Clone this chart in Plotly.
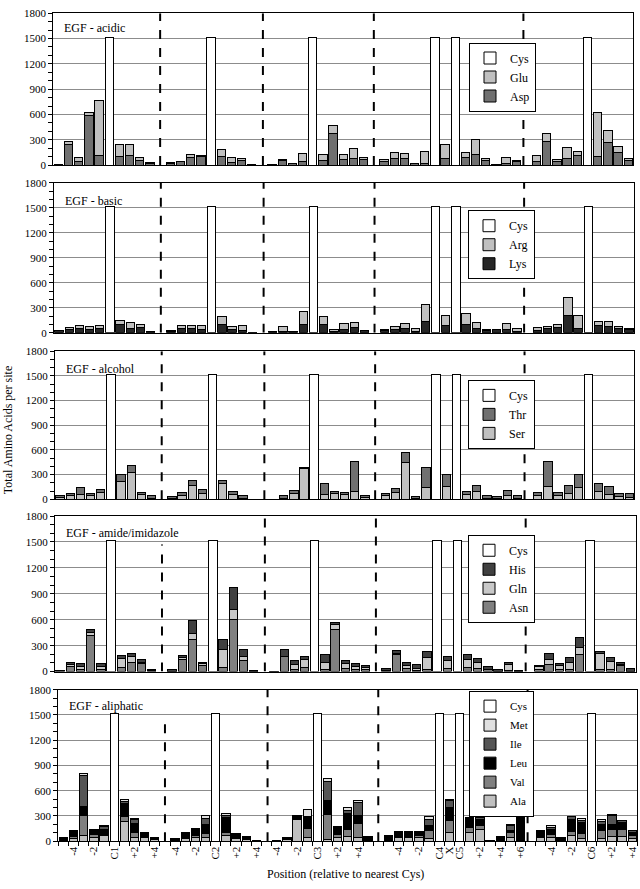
import plotly.graph_objects as go

# ---------------- data ----------------
N = 57
positions = list(range(N))
tick_idx = [1, 3, 5, 7, 9, 11, 13, 15, 17, 19, 21, 23, 25, 27, 29,
            33, 35, 37, 38, 39, 41, 43, 45, 48, 50, 52, 54, 56]
tick_labels = ["-4", "-2", "C1", "+2", "+4", "-4", "-2", "C2", "+2", "+4",
               "-4", "-2", "C3", "+2", "+4",
               "-4", "-2", "C4", "X", "C5", "+2", "+4", "+6",
               "-4", "-2", "C6", "+2", "+4"]
cys_idx = [5, 15, 25, 37, 39, 52]
cys_val = [1512, 1512, 1512, 1512, 1512, 1512]
dividers = [10, 20.1, 31, 45.7]

# Panel 1: acidic
asp = [8,250,40,590,113,0,100,110,50,20, 0, 25,40,90,100,0,100,30,60,8, 0,
       6,50,20,40,0,50,375,70,75,62, 0, 45,80,80,15,20,0,78,0,90,125,60,5,15,40, 0,
       45,280,45,74,110,0,100,270,145,50]
glu = [4,30,54,30,647,0,142,140,40,7, 0, 10,5,35,13,0,90,62,18,2, 0,
       2,15,5,100,0,70,90,55,125,32, 0, 21,64,53,5,136,0,172,0,54,175,22,0,71,18, 0,
       68,94,21,129,46,0,520,143,73,28]
# Panel 2: basic
lys = [25,40,50,40,50,0,95,55,60,15, 0, 20,50,50,40,0,95,40,25,5, 0,
       10,15,12,100,0,105,20,45,65,25, 0, 30,40,55,15,140,0,85,0,100,55,30,35,35,20, 0,
       30,50,60,210,50,0,85,80,50,35]
arg = [7,20,40,35,33,0,55,63,35,5, 0, 4,40,37,50,0,95,30,58,0, 0,
       0,65,0,152,0,95,20,70,57,7, 0, 5,35,60,32,203,0,120,0,132,63,5,8,75,27, 0,
       29,29,35,215,163,0,49,50,29,20]
# Panel 3: alcohol
ser = [25,40,60,50,80,0,210,320,60,10, 0, 10,40,170,70,0,190,55,5,2, 0,
       0,10,70,375,0,60,70,60,100,20, 0, 40,80,450,5,140,0,160,0,60,100,15,10,40,15, 0,
       50,150,40,70,140,0,100,55,30,25]
thr = [15,32,80,26,44,0,90,96,28,30, 0, 22,44,62,50,0,38,37,35,0, 0,
       2,34,38,9,0,128,25,24,364,20, 0, 32,56,122,31,244,0,140,0,40,64,33,26,68,29, 0,
       34,314,40,98,164,0,92,97,38,43]
# Panel 4: amide/imidazole
asn = [10,60,30,420,25,0,46,100,90,7, 0, 5,140,375,70,0,42,602,130,5, 0,
       3,170,20,50,0,30,490,40,30,25, 0, 10,200,40,15,30,0,40,0,50,40,20,5,15,4, 0,
       25,80,30,30,193,0,25,30,70,4]
gln = [0,20,30,35,35,0,100,70,20,0, 0, 0,20,65,20,0,208,118,50,0, 0,
       0,10,60,90,0,80,60,50,30,25, 0, 5,15,35,20,130,0,90,0,90,60,10,0,65,0, 0,
       30,60,40,70,87,0,190,90,10,0]
his = [5,27,35,29,28,0,37,43,27,20, 0, 18,30,150,20,0,120,255,70,3, 0,
       2,80,50,40,0,85,14,38,30,22, 0, 25,30,30,48,74,0,48,0,57,47,27,25,26,4, 0,
       13,68,28,63,113,0,19,43,26,30]
# Panel 5: aliphatic
ala = [10,30,70,50,65,0,240,50,40,20, 0, 10,35,45,45,0,70,35,25,10, 0,
       10,25,260,40,0,25,50,60,50,5, 0, 10,45,45,45,30,0,100,0,105,140,0,10,45,10, 0,
       45,45,10,70,35,0,35,60,60,30]
val = [0,30,240,25,20,0,50,60,10,5, 0, 0,5,20,50,0,40,5,0,0, 0,
       5,0,5,110,0,290,30,75,160,0, 0, 0,15,15,20,95,0,145,0,55,50,0,0,55,5, 0,
       15,40,0,50,55,0,90,85,80,35]
leu = [30,60,100,50,60,0,155,100,45,25, 0, 28,65,80,105,0,170,50,30,5, 0,
       0,25,40,130,0,170,85,190,95,55, 0, 55,50,45,40,60,0,150,0,115,70,10,45,30,270, 0,
       65,50,40,140,130,0,70,55,80,45]
ile = [0,5,370,20,30,0,25,45,5,0, 0, 0,3,10,70,0,20,0,0,0, 0,
       0,0,0,15,0,225,10,45,155,0, 0, 0,8,10,10,75,0,90,0,10,25,0,0,55,0, 0,
       8,30,0,30,30,0,40,110,25,12]
met = [0,0,27,0,10,0,20,20,5,0, 0, 0,0,0,35,0,30,0,0,0, 0,
       0,0,0,85,0,30,5,25,22,0, 0, 0,0,0,0,30,0,15,0,0,0,0,0,20,0, 0,
       0,20,0,0,20,0,20,5,0,0]

panels = [
    ("EGF - acidic", [("Asp", asp, "#707070"), ("Glu", glu, "#c0c0c0")]),
    ("EGF - basic", [("Lys", lys, "#262626"), ("Arg", arg, "#c0c0c0")]),
    ("EGF - alcohol", [("Ser", ser, "#c0c0c0"), ("Thr", thr, "#707070")]),
    ("EGF - amide/imidazole", [("Asn", asn, "#808080"), ("Gln", gln, "#c8c8c8"),
                               ("His", his, "#404040")]),
    ("EGF - aliphatic", [("Ala", ala, "#c0c0c0"), ("Val", val, "#808080"),
                         ("Leu", leu, "#000000"), ("Ile", ile, "#555555"),
                         ("Met", met, "#e0e0e0")]),
]

# ---------------- layout geometry (pixels) ----------------
W, H = 640, 889
ydom_px = [(7.3, 161.3), (179.3, 331.3), (350, 500), (517, 674.7), (693, 846.7)]
xdom_px = [(53.3, 633.3), (54, 634), (55, 634.3), (55, 635.7), (58.3, 637.3)]
label_y_px = [22, 198, 368, 534, 710]
legend_pos_px = [(469, 37), (468, 207), (468, 379), (468, 536), (469, 694)]
legend_font = [12, 12, 12, 12, 11]
divider_top = [[1800] * 4, [1800] * 4, [1800] * 4, [1470, 1800, 1800, 1800],
               [1470, 1800, 1800, 1800]]

FONT = "Liberation Serif"
fig = go.Figure()
layout = dict(
    width=W, height=H, margin=dict(l=0, r=0, t=0, b=0),
    paper_bgcolor="white", plot_bgcolor="white",
    barmode="stack", bargap=0.15, showlegend=True,
    font=dict(family=FONT, size=11, color="black"),
)
shapes, annotations = [], []


def clean(v):
    return [None if (a is None or a == 0) else a for a in v]


for p, (title, series) in enumerate(panels, start=1):
    sfx = "" if p == 1 else str(p)
    xa, ya = "x" + sfx, "y" + sfx
    lg = "legend" + sfx
    for name, vals, col in series:
        fig.add_trace(go.Bar(
            x=positions, y=clean(vals), name=name, xaxis=xa, yaxis=ya,
            legend=lg, width=0.82,
            marker=dict(color=col, line=dict(color="black", width=1)),
        ))
    fig.add_trace(go.Bar(
        x=cys_idx, y=cys_val, name="Cys", xaxis=xa, yaxis=ya, legend=lg,
        width=0.82, marker=dict(color="white", line=dict(color="black", width=1)),
    ))
    y0, y1 = ydom_px[p - 1]
    x0, x1 = xdom_px[p - 1]
    last = p == 5
    xaxis = dict(
        domain=[x0 / W, x1 / W], range=[-0.5, 56.5], anchor=ya,
        showline=True, mirror=True, linecolor="black", linewidth=1,
        showgrid=False, zeroline=False,
        tickmode="array", tickvals=tick_idx if last else [],
        ticktext=tick_labels if last else [], tickangle=-90,
        ticks="", tickfont=dict(family=FONT, size=11),
    )
    if last:
        xaxis["minor"] = dict(ticks="outside", tickmode="linear", tick0=0.5,
                              dtick=1, ticklen=4, tickcolor="black")
    yaxis = dict(
        domain=[1 - y1 / H, 1 - y0 / H], range=[0, 1800], anchor=xa,
        tickmode="linear", tick0=0, dtick=300,
        showline=True, mirror=True, linecolor="black", linewidth=1,
        showgrid=True, gridcolor="#8c8c8c", gridwidth=1, zeroline=False,
        ticks="outside", ticklen=4, tickcolor="black",
        minor=dict(ticks="outside", dtick=100, ticklen=4, tickcolor="black",
                   showgrid=False),
        tickfont=dict(family=FONT, size=11),
    )
    layout["xaxis" + sfx] = xaxis
    layout["yaxis" + sfx] = yaxis
    lx, ly = legend_pos_px[p - 1]
    layout[lg] = dict(
        x=lx / W, y=1 - ly / H, xref="paper", yref="paper",
        xanchor="left", yanchor="top", bgcolor="white",
        bordercolor="black", borderwidth=1, traceorder="reversed",
        font=dict(family=FONT, size=legend_font[p - 1]), itemwidth=30,
        tracegroupgap=0,
    )
    for d, top in zip(dividers, divider_top[p - 1]):
        shapes.append(dict(type="line", xref=xa, yref=ya, x0=d, x1=d, y0=0,
                           y1=top, line=dict(color="black", width=2, dash="dash")))
    annotations.append(dict(
        text=title, xref="paper", yref="paper", x=(x0 + 9) / W,
        y=1 - label_y_px[p - 1] / H, xanchor="left", yanchor="middle",
        showarrow=False, font=dict(family=FONT, size=12),
    ))

annotations.append(dict(
    text="Total Amino Acids per site", xref="paper", yref="paper",
    x=8 / W, y=1 - 430 / H, textangle=-90, showarrow=False,
    xanchor="center", yanchor="middle", font=dict(family=FONT, size=12),
))
annotations.append(dict(
    text="Position (relative to nearest Cys)", xref="paper", yref="paper",
    x=345 / W, y=1 - 880 / H, showarrow=False,
    xanchor="center", yanchor="middle", font=dict(family=FONT, size=12),
))
layout["shapes"] = shapes
layout["annotations"] = annotations
fig.update_layout(**layout)
fig.write_html(
    "out.html",
    config={"displayModeBar": False},
    post_script="document.body.style.margin='0';document.body.style.overflow='hidden';",
)
